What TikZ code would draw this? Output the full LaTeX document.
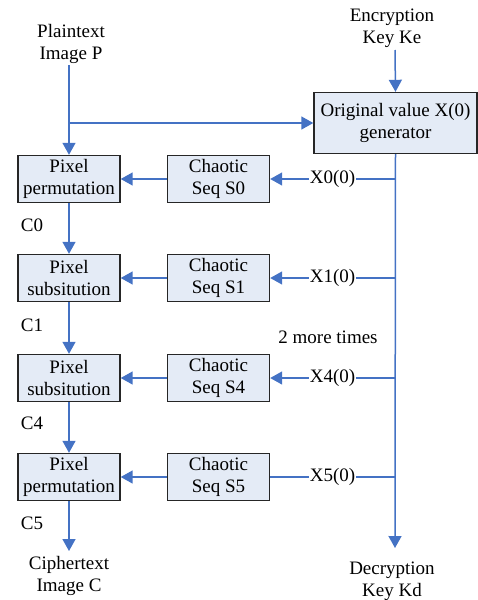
\documentclass[tikz,border=0pt]{standalone}
\usepackage{fontspec}
\setmainfont{Liberation Serif}
\usetikzlibrary{arrows.meta}
\definecolor{lineblue}{RGB}{68,114,196}
\definecolor{boxfill}{RGB}{228,235,246}
\begin{document}
\begin{tikzpicture}[x=1pt,y=-1pt,
  box/.style={draw=black!85,line width=1.4pt,fill=boxfill,inner sep=0pt,align=center,font=\fontsize{19}{22}\selectfont},
  pbox/.style={box,minimum width=102pt,minimum height=47pt},
  conn/.style={draw=lineblue,line width=1.5pt},
  arr/.style={conn,-{Triangle[length=12pt,width=13pt]}},
  txt/.style={align=center,font=\fontsize{19}{22}\selectfont,inner sep=0pt},
  lab/.style={font=\fontsize{19}{22}\selectfont,inner sep=1pt,fill=white}]
\useasboundingbox (0,0) rectangle (478,600);
% text terminals
\node[txt] (plain) at (71,44) {Plaintext\\Image P};
\node[txt] (enc) at (392,28) {Encryption\\Key Ke};
\node[txt] (ciph) at (69,576) {Ciphertext\\Image C};
\node[txt] (dec) at (392,581) {Decryption\\Key Kd};
% boxes
\node[box,minimum width=163pt,minimum height=61pt] (gen) at (395.5,123) {Original value X(0)\\generator};
\node[pbox] (p0) at (69,179) {Pixel\\permutation};
\node[pbox] (p1) at (69,278) {Pixel\\subsitution};
\node[pbox] (p2) at (69,378) {Pixel\\subsitution};
\node[pbox] (p3) at (69,477) {Pixel\\permutation};
\node[pbox] (c0) at (218.5,179) {Chaotic\\Seq S0};
\node[pbox] (c1) at (218.5,278) {Chaotic\\Seq S1};
\node[pbox] (c2) at (218.5,378) {Chaotic\\Seq S4};
\node[pbox] (c3) at (218.5,477) {Chaotic\\Seq S5};
% coordinates
\coordinate (ptop) at (69,65);
\coordinate (br) at (p0.north |- gen.west);
\coordinate (ktop) at (395,50);
\coordinate (kd) at (395,548);
\coordinate (ce) at (69,551);
\coordinate (v0) at (395,179);
\coordinate (v1) at (395,278);
\coordinate (v2) at (395,378);
\coordinate (v3) at (395,477);
% connectors
\draw[arr] (ptop) -- (p0.north);
\draw[arr] (br) -- (gen.west);
\draw[arr] (ktop) -- (gen.north);
\draw[arr] (gen.south) -- (kd);
\draw[arr] (p0.south) -- (p1.north);
\draw[arr] (p1.south) -- (p2.north);
\draw[arr] (p2.south) -- (p3.north);
\draw[arr] (p3.south) -- (ce);
\draw[arr] (c0.west) -- (p0.east);
\draw[arr] (c1.west) -- (p1.east);
\draw[arr] (c2.west) -- (p2.east);
\draw[arr] (c3.west) -- (p3.east);
\draw[arr] (v0) -- (c0.east) node[lab,pos=0.5] {X0(0)};
\draw[arr] (v1) -- (c1.east) node[lab,pos=0.5] {X1(0)};
\draw[arr] (v2) -- (c2.east) node[lab,pos=0.5] {X4(0)};
\draw[conn] (v3) -- (c3.east) node[lab,pos=0.5] {X5(0)};
% labels
\node[txt] (l0) at (32,225) {C0};
\node[txt] (l1) at (32,325) {C1};
\node[txt] (l4) at (32,423) {C4};
\node[txt] (l5) at (32,523) {C5};
\node[txt] (more) at (328,337) {2 more times};
\end{tikzpicture}
\end{document}
